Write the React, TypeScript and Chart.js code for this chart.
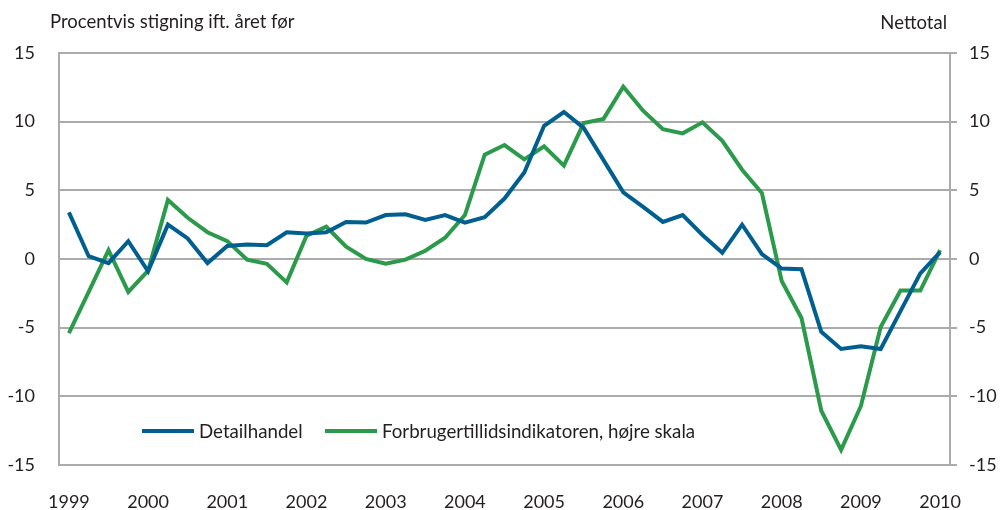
import { useEffect, useRef } from 'react';
import { Chart, registerables } from 'chart.js';

Chart.register(...registerables);

const years = ['1999', '2000', '2001', '2002', '2003', '2004', '2005', '2006', '2007', '2008', '2009', '2010'];

const quarters: string[] = years.flatMap((y, i) =>
  i === years.length - 1 ? [y + ' K1'] : [y + ' K1', y + ' K2', y + ' K3', y + ' K4']
);

const detailhandel = [
  3.4, 0.2, -0.3, 1.3, -0.9, 2.5, 1.5, -0.3,
  0.95, 1.05, 1.0, 1.95, 1.85, 1.95, 2.7, 2.65,
  3.2, 3.25, 2.85, 3.2, 2.65, 3.05, 4.4, 6.3,
  9.7, 10.7, 9.55, 7.2, 4.85, 3.8, 2.7, 3.2,
  1.75, 0.45, 2.5, 0.35, -0.7, -0.75, -5.3, -6.55,
  -6.35, -6.55, -3.8, -1.05, 0.5,
];

const forbrugertillid = [
  -5.4, -2.4, 0.65, -2.4, -0.85, 4.3, 3.0, 1.95,
  1.3, -0.05, -0.35, -1.7, 1.7, 2.35, 0.9, 0.0,
  -0.35, -0.05, 0.6, 1.55, 3.2, 7.6, 8.3, 7.25,
  8.2, 6.8, 9.9, 10.2, 12.55, 10.8, 9.45, 9.15,
  9.95, 8.6, 6.5, 4.8, -1.6, -4.3, -11.05, -13.9,
  -10.7, -4.95, -2.3, -2.3, 0.65,
];

const seriesLabels = ['Detailhandel', 'Forbrugertillidsindikatoren, højre skala'];
const seriesColors = ['#005f8f', '#2b9a4a'];
const leftTitle = 'Procentvis stigning ift. året før';
const rightTitle = 'Nettotal';

const FONT = 'Lato';
const TEXT = '#231f20';
const GRID = '#ababab';

export default function App() {
  const ref = useRef<HTMLCanvasElement | null>(null);

  useEffect(() => {
    document.body.style.margin = '0';
    const canvas = ref.current;
    if (!canvas) return;

    const overlay = {
      id: 'overlay',
      afterDraw(chart: any) {
        const ctx = chart.ctx;
        const area = chart.chartArea;
        ctx.save();
        ctx.fillStyle = TEXT;
        ctx.font = `18.5px ${FONT}`;
        ctx.textBaseline = 'alphabetic';
        ctx.textAlign = 'left';
        ctx.fillText(leftTitle, 50, 28);
        ctx.textAlign = 'right';
        ctx.fillText(rightTitle, 947, 29);

        // legend inside plot
        const ly = 431;
        const items = [
          { x: area.left + 83, text: seriesLabels[0], color: seriesColors[0] },
          { x: area.left + 266, text: seriesLabels[1], color: seriesColors[1] },
        ];
        ctx.font = `18.7px ${FONT}`;
        ctx.textAlign = 'left';
        ctx.textBaseline = 'middle';
        for (const it of items) {
          ctx.strokeStyle = it.color;
          ctx.lineWidth = 4;
          ctx.beginPath();
          ctx.moveTo(it.x, ly);
          ctx.lineTo(it.x + 52, ly);
          ctx.stroke();
          ctx.fillStyle = TEXT;
          ctx.fillText(it.text, it.x + 57, ly + 1);
        }
        ctx.restore();
      },
    };

    const chart = new Chart(canvas, {
      type: 'line',
      data: {
        labels: quarters,
        datasets: [
          {
            label: seriesLabels[0],
            data: detailhandel,
            yAxisID: 'y',
            borderColor: seriesColors[0],
            backgroundColor: seriesColors[0],
            borderWidth: 4,
            pointRadius: 0,
            tension: 0,
          },
          {
            label: seriesLabels[1],
            data: forbrugertillid,
            yAxisID: 'y1',
            borderColor: seriesColors[1],
            backgroundColor: seriesColors[1],
            borderWidth: 4,
            pointRadius: 0,
            tension: 0,
          },
        ],
      },
      plugins: [overlay],
      options: {
        responsive: true,
        maintainAspectRatio: false,
        animation: false,
        layout: { padding: { top: 53, left: 0, right: 0, bottom: 0 } },
        plugins: {
          legend: { display: false },
          tooltip: { enabled: false },
        },
        scales: {
          x: {
            type: 'category',
            offset: true,
            grid: { display: false, drawTicks: false },
            border: { display: true, color: GRID, width: 2 },
            ticks: {
              autoSkip: false,
              maxRotation: 0,
              minRotation: 0,
              padding: 26,
              color: TEXT,
              font: { family: FONT, size: 18 },
              callback: (_v: any, i: number) => (i % 4 === 0 ? years[i / 4] : ''),
            },
            afterFit: (s: any) => {
              s.height = 45;
            },
          },
          y: {
            position: 'left',
            min: -15,
            max: 15,
            grid: { color: GRID, lineWidth: 2, drawTicks: false },
            border: { display: true, color: GRID, width: 2 },
            ticks: {
              stepSize: 5,
              padding: 24,
              color: TEXT,
              font: { family: FONT, size: 18 },
            },
            afterFit: (s: any) => {
              s.width = 59;
            },
          },
          y1: {
            position: 'right',
            min: -15,
            max: 15,
            grid: { drawOnChartArea: false, drawTicks: true, tickLength: 7, color: GRID, lineWidth: 2 },
            border: { display: true, color: GRID, width: 2 },
            ticks: {
              stepSize: 5,
              padding: 12,
              color: TEXT,
              font: { family: FONT, size: 18 },
            },
            afterFit: (s: any) => {
              s.width = 51;
            },
          },
        },
      },
    } as any);

    return () => chart.destroy();
  }, []);

  return (
    <div style={{ position: 'absolute', left: 0, top: 0, width: 1001, height: 510 }}>
      <canvas ref={ref} />
    </div>
  );
}
